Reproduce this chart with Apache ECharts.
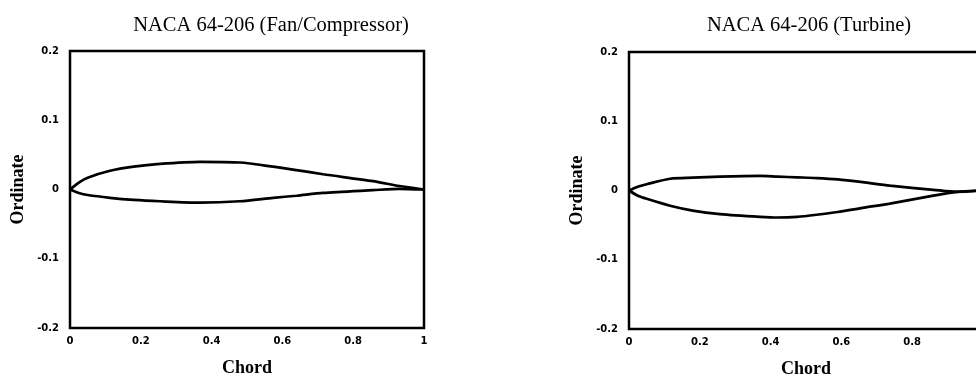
<!DOCTYPE html>
<html>
<head>
<meta charset="utf-8">
<script src="https://cdn.jsdelivr.net/npm/echarts@6/dist/echarts.min.js"></script>
<style>html,body{margin:0;padding:0;background:#fff;}#c{width:976px;height:377px;}</style>
</head>
<body>
<div id="c"></div>
<script>
// Titles and axis labels
const titles = ["NACA 64-206 (Fan/Compressor)", "NACA 64-206 (Turbine)"];
const xName = "Chord";
const yName = "Ordinate";

// Fan/Compressor profile
const fanChord = [0, 0.025, 0.05, 0.113, 0.18, 0.254, 0.367, 0.48, 0.574, 0.64, 0.715, 0.856, 0.93, 1];
const fanUpper = [0, 0.010, 0.017, 0.027, 0.033, 0.037, 0.040, 0.039, 0.033, 0.028, 0.022, 0.012, 0.005, 0];
const fanLower = [0, -0.005, -0.008, -0.012, -0.015, -0.017, -0.019, -0.017, -0.012, -0.009, -0.005, -0.001, 0.001, 0];

// Turbine profile
const turbChord = [0, 0.025, 0.05, 0.116, 0.18, 0.257, 0.37, 0.42, 0.475, 0.53, 0.59, 0.66, 0.737, 0.86, 0.926, 1];
const turbUpper = [0, 0.0055, 0.009, 0.017, 0.0185, 0.020, 0.021, 0.020, 0.019, 0.018, 0.016, 0.012, 0.007, 0.001, -0.002, 0];
const turbLower = [0, -0.0075, -0.012, -0.022, -0.029, -0.034, -0.038, -0.039, -0.038, -0.035, -0.031, -0.025, -0.019, -0.0075, -0.002, 0];

const pair = (xs, ys) => xs.map((x, i) => [x, ys[i]]);

const chart = echarts.init(document.getElementById('c'), null, {renderer: 'canvas'});
const serif = '"Liberation Serif", "DejaVu Serif", serif';
const tickFont = {fontFamily: '"DejaVu Sans", sans-serif', fontWeight: 'bold', fontSize: 10, color: '#000'};

function xAx(gi) {
  return {
    type: 'value', gridIndex: gi, min: 0, max: 1, interval: 0.2,
    name: xName, nameLocation: 'middle', nameGap: 31,
    nameTextStyle: {fontFamily: serif, fontWeight: 'bold', fontSize: 18, color: '#000'},
    axisLine: {show: false}, axisTick: {show: false}, splitLine: {show: false},
    axisLabel: Object.assign({margin: 8}, tickFont)
  };
}
function yAx(gi) {
  return {
    type: 'value', gridIndex: gi, min: -0.2, max: 0.2, interval: 0.1,
    name: yName, nameLocation: 'middle', nameGap: 43, nameRotate: 90,
    nameTextStyle: {fontFamily: serif, fontWeight: 'bold', fontSize: 18, color: '#000'},
    axisLine: {show: false}, axisTick: {show: false}, splitLine: {show: false},
    axisLabel: Object.assign({margin: 11}, tickFont)
  };
}
function line(gi, xs, ys) {
  return {
    type: 'line', xAxisIndex: gi, yAxisIndex: gi, data: pair(xs, ys),
    smooth: 0.25, symbol: 'none', lineStyle: {color: '#000', width: 2.7}, silent: true
  };
}

chart.setOption({
  animation: false,
  backgroundColor: '#fff',
  title: [
    {text: titles[0], left: 266, top: 10, textAlign: 'center',
     textStyle: {fontFamily: serif, fontWeight: 'normal', fontSize: 20.5, color: '#000'}},
    {text: titles[1], left: 804, top: 10, textAlign: 'center',
     textStyle: {fontFamily: serif, fontWeight: 'normal', fontSize: 20.5, color: '#000'}}
  ],
  grid: [
    {left: 70, top: 51, width: 354, height: 277, show: true, borderColor: '#000', borderWidth: 2.5,
     backgroundColor: 'transparent', containLabel: false, outerBoundsMode: 'none'},
    {left: 629, top: 52, width: 354, height: 277, show: true, borderColor: '#000', borderWidth: 2.5,
     backgroundColor: 'transparent', containLabel: false, outerBoundsMode: 'none'}
  ],
  xAxis: [xAx(0), xAx(1)],
  yAxis: [yAx(0), yAx(1)],
  series: [
    line(0, fanChord, fanUpper),
    line(0, fanChord, fanLower),
    line(1, turbChord, turbUpper),
    line(1, turbChord, turbLower)
  ]
});
</script>
</body>
</html>
